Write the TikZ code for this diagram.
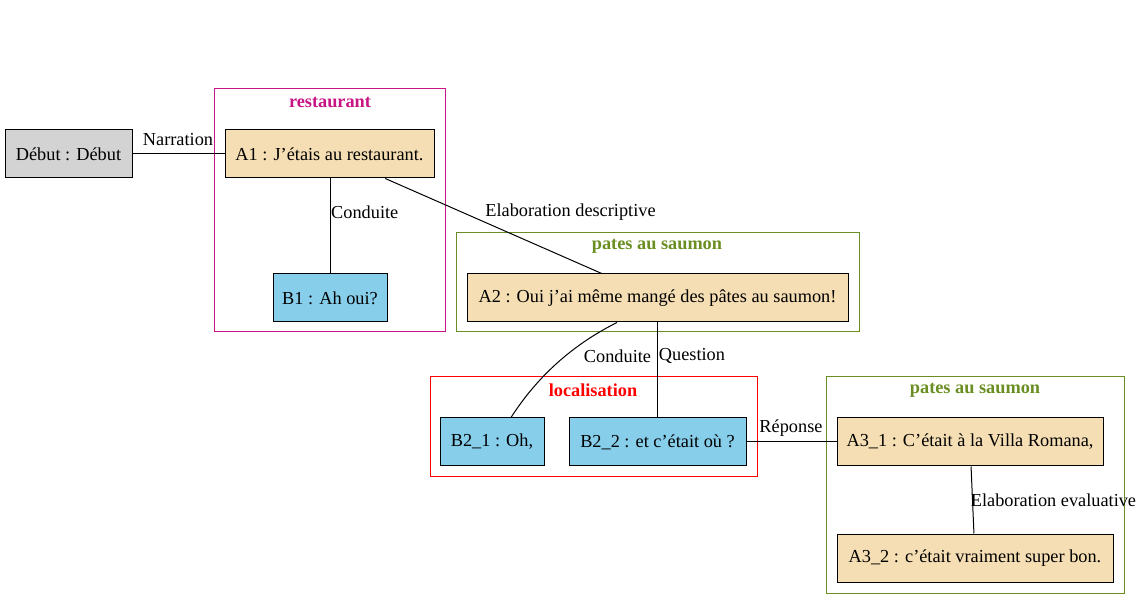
\documentclass[tikz,border=0pt]{standalone}
\usepackage{fontspec}
\setmainfont{Liberation Serif}
\usetikzlibrary{calc}
\definecolor{wheatc}{HTML}{F5DEB3}
\definecolor{skyc}{HTML}{87CEEB}
\definecolor{grayc}{HTML}{D3D3D3}
\definecolor{pinkc}{HTML}{C71585}
\definecolor{olivec}{HTML}{6B8E23}
\begin{document}
\begin{tikzpicture}[x=1pt,y=-1pt,
  every node/.style={font=\fontsize{18.3}{22}\selectfont, inner sep=0pt},
  box/.style={draw=black, line width=1pt, minimum height=48pt, anchor=center},
  aseg/.style={box, fill=wheatc},
  bseg/.style={box, fill=skyc},
  start/.style={box, fill=grayc},
  cluster/.style={draw=#1, line width=1pt},
  ctitle/.style={font=\fontsize{18.3}{22}\selectfont\bfseries, text=#1},
  rel/.style={draw=black, line width=1pt},
  rlabel/.style={}
]
\useasboundingbox (0,0) rectangle (1141,609);
% clusters
\draw[cluster=pinkc] (214,89) rectangle (445,332);
\node[ctitle=pinkc] (t1) at (330,102) {restaurant};
\draw[cluster=olivec] (456,233) rectangle (859,332);
\node[ctitle=olivec] (t2) at (657,246) {pates au saumon};
\draw[cluster=red] (430,377) rectangle (757,477);
\node[ctitle=red] (t3) at (593,390) {localisation};
\draw[cluster=olivec] (826,377) rectangle (1124,593);
\node[ctitle=olivec] (t4) at (975,390) {pates au saumon};
% nodes
\node[start, minimum width=127pt] (D) at (68.5,154) {Début : Début};
\node[aseg, minimum width=209pt] (A1) at (329.5,154) {A1 : J’étais au restaurant.};
\node[bseg, minimum width=114pt] (B1) at (330,298) {B1 : Ah oui?};
\node[aseg, minimum width=381pt] (A2) at (657.5,298) {A2 : Oui j’ai même mangé des pâtes au saumon!};
\node[bseg, minimum width=104pt] (B21) at (492,442) {B2\_1 : Oh,};
\node[bseg, minimum width=177pt] (B22) at (657.5,442) {B2\_2 : et c’était où ?};
\node[aseg, minimum width=266pt] (A31) at (970,442) {A3\_1 : C’était à la Villa Romana,};
\node[aseg, minimum width=276pt] (A32) at (975,558) {A3\_2 : c’était vraiment super bon.};
% edges
\draw[rel] (D) -- (A1);
\draw[rel] (A1.south -| B1) -- (B1.north);
\draw[rel] (A1) -- (A2);
\draw[rel] ($(A2.south)+(-40.5,0)$) .. controls (572,345) and (537,377) .. ($(B21.north)+(19,0)$);
\draw[rel] (A2) -- (B22);
\draw[rel] (B22) -- (A31);
\draw[rel] (A31) -- (A32);
% labels
\node[rlabel] (l1) at (178,140) {Narration};
\node[rlabel, anchor=west] (l2) at (331,212) {Conduite};
\node[rlabel] (l3) at (570.5,212) {Elaboration descriptive};
\node[rlabel] (l4) at (617.5,356) {Conduite};
\node[rlabel] (l5) at (692,356) {Question};
\node[rlabel] (l6) at (791,428) {Réponse};
\node[rlabel] (l7) at (1053.5,500) {Elaboration evaluative};
\end{tikzpicture}
\end{document}
